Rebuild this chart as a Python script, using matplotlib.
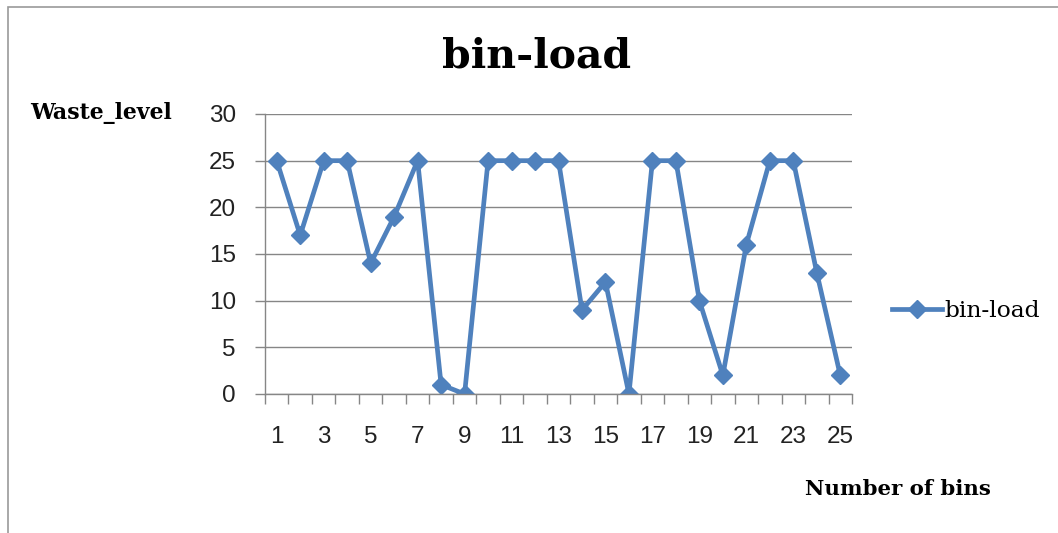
import matplotlib.pyplot as plt
from matplotlib.patches import Rectangle

# data
bins = list(range(1, 26))
waste_level = [25, 17, 25, 25, 14, 19, 25, 1, 0, 25, 25, 25, 25,
               9, 12, 0, 25, 25, 10, 2, 16, 25, 25, 13, 2]
x_labels = [str(b) for b in bins[::2]]

blue = '#4F81BD'
grid_gray = '#868686'
serif = 'DejaVu Serif'

fig = plt.figure(figsize=(10.58, 5.33), dpi=100)
ax = fig.add_axes([265 / 1058, 1 - 394 / 533, 587 / 1058, 280 / 533])

# outer chart border
fig.patches.append(Rectangle((8 / 1058, -0.05), 1.1, 1 - 7 / 533 + 0.05,
                             transform=fig.transFigure, fill=False,
                             edgecolor='#9a9a9a', linewidth=1.2))

ax.plot(bins, waste_level, color=blue, linewidth=3.4, marker='D',
        markersize=9.5, label='bin-load', solid_joinstyle='miter')

ax.set_xlim(0.5, 25.5)
ax.set_ylim(0, 30)
ax.set_yticks(range(0, 31, 5))
ax.yaxis.grid(True, color=grid_gray, linewidth=1)
ax.set_axisbelow(True)

# category axis: tick marks between categories, labels at every other bin
ax.set_xticks([b - 0.5 for b in bins] + [25.5])
ax.set_xticklabels([])
ax.set_xticks(bins[::2], minor=True)
ax.set_xticklabels(x_labels, minor=True)
ax.tick_params(axis='x', which='major', length=7, color=grid_gray, width=1)
ax.tick_params(axis='x', which='minor', length=0, pad=23)
ax.tick_params(axis='y', length=7, color=grid_gray, width=1, pad=14)
for lab in ax.get_xticklabels(minor=True) + ax.get_yticklabels():
    lab.set_fontsize(17.5)
    lab.set_fontfamily('Liberation Sans')
    lab.set_color('#222222')

for side in ['top', 'right']:
    ax.spines[side].set_visible(False)
for side in ['left', 'bottom']:
    ax.spines[side].set_color(grid_gray)
    ax.spines[side].set_linewidth(1)

fig.text(537 / 1058, 1 - 57 / 533, 'bin-load', ha='center', va='center',
         fontsize=29.5, fontweight='bold', family=serif)
fig.text(30 / 1058, 1 - 113 / 533, 'Waste_level', ha='left', va='center',
         fontsize=15.8, fontweight='bold', family=serif)
fig.text(805 / 1058, 1 - 489 / 533, 'Number of bins', ha='left', va='center',
         fontsize=15.3, fontweight='bold', family=serif)

leg = fig.legend(loc='center left', bbox_to_anchor=(871 / 1058, 1 - 311 / 533),
                 frameon=False, handlelength=2.15, handletextpad=0.1,
                 prop={'family': serif, 'size': 16.8})

fig.savefig('out.png', dpi=100)
